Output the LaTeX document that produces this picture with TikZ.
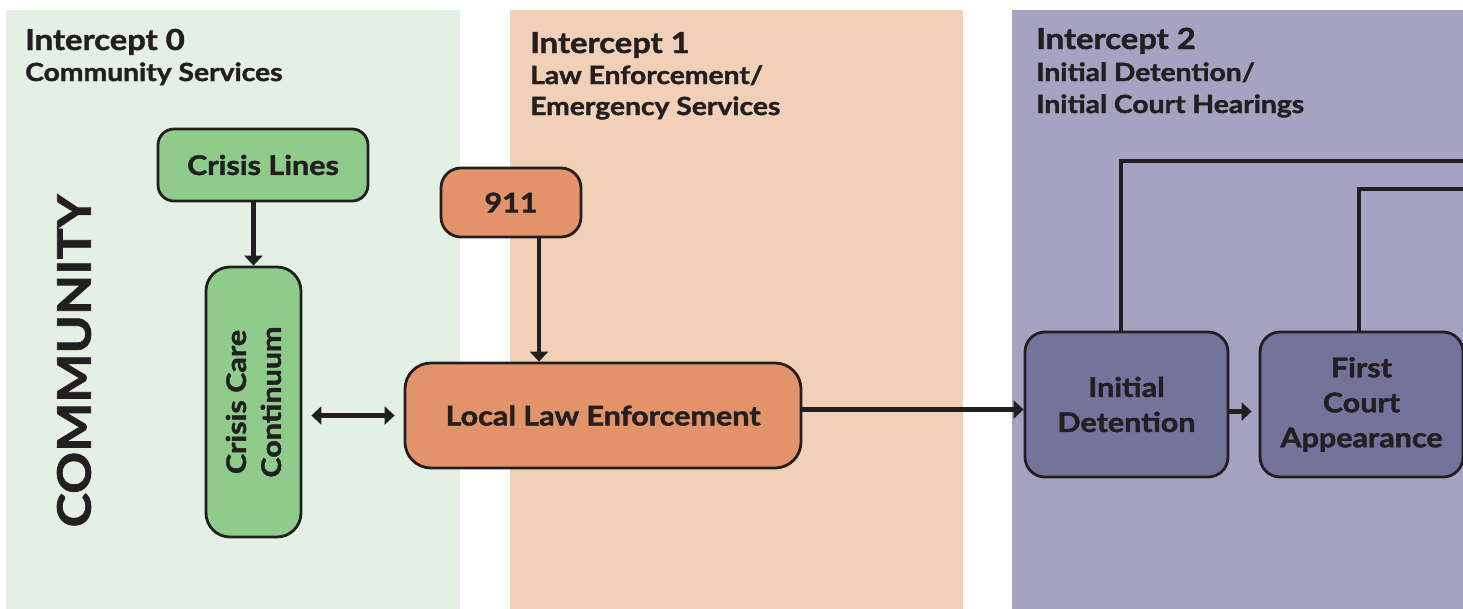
\documentclass[tikz,border=0pt]{standalone}
\usepackage{fontspec}
\setmainfont{Lato}[BoldFeatures={FakeBold=1.6,FakeStretch=1.13}]
\usetikzlibrary{arrows.meta,calc}
\definecolor{pgreen}{HTML}{E4F0E4}
\definecolor{porange}{HTML}{F2D0B8}
\definecolor{ppurple}{HTML}{A6A3C2}
\definecolor{ngreen}{HTML}{8FCC8C}
\definecolor{norange}{HTML}{E3936A}
\definecolor{npurple}{HTML}{74739C}
\definecolor{ink}{HTML}{231F20}
\tikzset{
  panel/.style={draw=none},
  ttl/.style={anchor=base west, inner sep=0, text=ink, font=\bfseries\fontsize{29}{34}\selectfont},
  sub/.style={anchor=base west, inner sep=0, text=ink, font=\bfseries\fontsize{25}{31}\selectfont},
  box/.style={draw=ink, line width=2.8pt, align=center, inner sep=0, text=ink,
    font=\bfseries\fontsize{27}{35}\selectfont},
  conn/.style={draw=ink, line width=4.4pt},
  arr/.style={conn, -{Triangle[length=10pt,width=18pt]}},
  dbl/.style={conn, {Triangle[length=10pt,width=18pt]}-{Triangle[length=10pt,width=18pt]}},
}
\begin{document}
\begin{tikzpicture}[x=1pt,y=-1pt]
\useasboundingbox (0,0) rectangle (1463,608);
\clip (0,0) rectangle (1463,608);
\fill[white] (0,0) rectangle (1463,608);
% panels
\fill[pgreen] (6,10) rectangle (460,610);
\fill[porange] (510,10) rectangle (963,610);
\fill[ppurple] (1012,10) rectangle (1470,610);
% titles
\node[ttl] (t0) at (25,50) {Intercept 0};
\node[sub] (s0) at (25,81) {Community Services};
\node[ttl] (t1) at (530,53) {Intercept 1};
\node[sub] (s1a) at (530,84) {Law Enforcement/};
\node[sub] (s1b) at (530,115) {Emergency Services};
\node[ttl] (t2) at (1036,49) {Intercept 2};
\node[sub] (s2a) at (1036,81) {Initial Detention/};
\node[sub] (s2b) at (1036,113) {Initial Court Hearings};
% community label
\node[rotate=90, inner sep=0, text=ink, font=\bfseries\fontsize{46}{50}\selectfont] (comm) at (74,361) {COMMUNITY};
% nodes
\node[box, fill=ngreen, rounded corners=16pt, minimum width=210pt, minimum height=72pt] (cl) at (263,165) {Crisis Lines};
\node[box, fill=ngreen, rounded corners=24pt, minimum width=270pt, minimum height=95pt, rotate=90] (ccc) at (253.5,402) {Crisis Care\\Continuum};
\node[box, fill=norange, rounded corners=20pt, minimum width=140pt, minimum height=69pt] (n911) at (511,202.5) {911};
\node[box, fill=norange, rounded corners=26pt, minimum width=396pt, minimum height=105pt] (lle) at (603,415.5) {Local Law Enforcement};
\node[box, fill=npurple, rounded corners=20pt, minimum width=203pt, minimum height=145pt] (id) at (1126.5,404.5) {Initial\\Detention};
\node[box, fill=npurple, rounded corners=20pt, minimum width=203pt, minimum height=145pt] (fc) at (1361.5,404.5) {First\\Court\\Appearance};
% connectors
\coordinate (e1) at (1475,161);
\coordinate (e2) at (1475,189);
\draw[arr] (cl.south -| ccc.center) -- (ccc.east);
\draw[arr] ([xshift=28pt]n911.south) -- ([xshift=28pt]n911.south |- lle.north);
\draw[dbl, shorten <=9pt, shorten >=9pt] (ccc.south |- lle.west) -- (lle.west);
\draw[arr] ([yshift=6pt]lle.east) -- ([yshift=6pt]lle.east -| id.west);
\draw[arr, shorten >=7pt] ([yshift=-7pt]id.east) -- ([yshift=-7pt]id.east -| fc.west);
\draw[conn] ([xshift=-5.5pt]id.north) -- ([xshift=-5.5pt]id.north |- e1) -- (e1);
\draw[conn] ([xshift=-2.5pt]fc.north) -- ([xshift=-2.5pt]fc.north |- e2) -- (e2);
\end{tikzpicture}
\end{document}
